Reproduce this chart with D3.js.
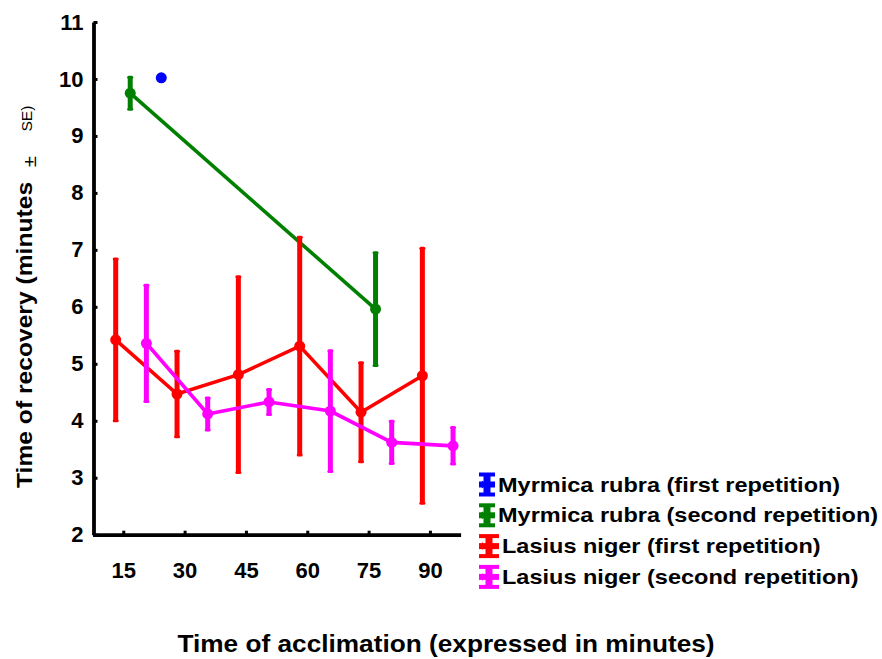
<!DOCTYPE html>
<html lang="en">
<head>
<meta charset="utf-8">
<title>Time of recovery</title>
<script src="https://d3js.org/d3.v7.min.js"></script>
<style>
body { margin: 0; background: #fff; }
text { font-family: "Liberation Sans", Arial, sans-serif; }
</style>
</head>
<body>
<script type="text/javascript">
var w = 882;
var h = 659;

// acclimation time categories (minutes)
var categories = [15, 30, 45, 60, 75, 90];
var yTicks = [2, 3, 4, 5, 6, 7, 8, 9, 10, 11];

// Myrmica rubra (first repetition)
var mrFirstX = [15];
var mrFirstMean = [10.02];
var mrFirstSE = [0];

// Myrmica rubra (second repetition)
var mrSecondX = [15, 75];
var mrSecondMean = [9.75, 5.96];
var mrSecondSE = [0.28, 0.99];

// Lasius niger (first repetition)
var lnFirstX = [15, 30, 45, 60, 75, 90];
var lnFirstMean = [5.42, 4.47, 4.81, 5.31, 4.15, 4.79];
var lnFirstSE = [1.42, 0.75, 1.72, 1.91, 0.87, 2.24];

// Lasius niger (second repetition)
var lnSecondX = [15, 30, 45, 60, 75, 90];
var lnSecondMean = [5.36, 4.12, 4.33, 4.17, 3.62, 3.56];
var lnSecondSE = [1.02, 0.28, 0.22, 1.06, 0.37, 0.32];

var seriesNames = [
  "Myrmica rubra (first repetition)",
  "Myrmica rubra (second repetition)",
  "Lasius niger (first repetition)",
  "Lasius niger (second repetition)"
];

// build series (offset = horizontal dodge in minutes, as in the original plot)
var series = [
  {name: seriesNames[0], xs: mrFirstX, mean: mrFirstMean, se: mrFirstSE, color: "#0000ff", offset: 9.3, iconW: 16},
  {name: seriesNames[1], xs: mrSecondX, mean: mrSecondMean, se: mrSecondSE, color: "#008000", offset: 1.7, iconW: 16},
  {name: seriesNames[2], xs: lnFirstX, mean: lnFirstMean, se: lnFirstSE, color: "#ff0000", offset: -1.85, iconW: 20},
  {name: seriesNames[3], xs: lnSecondX, mean: lnSecondMean, se: lnSecondSE, color: "#ff00ff", offset: 5.65, iconW: 20}
];
series.forEach(function(s){
  s.points = s.xs.map(function(x, i){
    return {x: x + s.offset, mean: s.mean[i], se: s.se[i]};
  });
});

var xScale = d3.scaleLinear()
               .domain([7.5, 97.5])
               .range([92.6, 460.6]);
var yScale = d3.scaleLinear()
               .domain([2, 11])
               .range([534.7, 22]);

var svg = d3.select("body")
            .append("svg")
            .attr("width", w)
            .attr("height", h);

// axes
var yAxis = d3.axisLeft(yScale)
              .tickValues(yTicks)
              .tickFormat(d3.format("d"))
              .tickSizeInner(-4)
              .tickSizeOuter(0)
              .tickPadding(10);
var xAxis = d3.axisBottom(xScale)
              .tickValues(categories)
              .tickFormat(d3.format("d"))
              .tickSizeInner(-4)
              .tickSizeOuter(0)
              .tickPadding(27.5);

var gy = svg.append("g")
            .attr("transform", "translate(93.5,0)")
            .call(yAxis);
var gx = svg.append("g")
            .attr("transform", "translate(0,534.7)")
            .call(xAxis);

[gy, gx].forEach(function(g){
  g.select(".domain").attr("stroke", "#000").attr("stroke-width", 3.8);
  g.selectAll(".tick line").attr("stroke", "#000").attr("stroke-width", 3);
  g.selectAll(".tick text")
   .attr("fill", "#000")
   .attr("font-family", "Liberation Sans, Arial, sans-serif")
   .attr("font-weight", "bold")
   .attr("font-size", "22px");
});

// series: lines, error bars, markers
var line = d3.line()
             .x(function(d){ return xScale(d.x); })
             .y(function(d){ return yScale(d.mean); });

series.forEach(function(s){
  var g = svg.append("g");

  g.append("path")
   .datum(s.points)
   .attr("d", line)
   .attr("fill", "none")
   .attr("stroke", s.color)
   .attr("stroke-width", 3.6);

  var bars = g.selectAll(".bar")
              .data(s.points.filter(function(d){ return d.se > 0; }))
              .enter()
              .append("g");

  bars.append("line")
      .attr("x1", function(d){ return xScale(d.x); })
      .attr("x2", function(d){ return xScale(d.x); })
      .attr("y1", function(d){ return yScale(d.mean + d.se); })
      .attr("y2", function(d){ return yScale(d.mean - d.se); })
      .attr("stroke", s.color)
      .attr("stroke-width", 5);

  bars.selectAll(".cap")
      .data(function(d){ return [d.mean + d.se, d.mean - d.se].map(function(v){ return {x: d.x, v: v}; }); })
      .enter()
      .append("line")
      .attr("x1", function(d){ return xScale(d.x) - 1.5; })
      .attr("x2", function(d){ return xScale(d.x) + 1.5; })
      .attr("y1", function(d){ return yScale(d.v); })
      .attr("y2", function(d){ return yScale(d.v); })
      .attr("stroke", s.color)
      .attr("stroke-width", 3)
      .attr("stroke-linecap", "round");

  g.selectAll("circle")
   .data(s.points)
   .enter()
   .append("circle")
   .attr("cx", function(d){ return xScale(d.x); })
   .attr("cy", function(d){ return yScale(d.mean); })
   .attr("r", 5.5)
   .attr("fill", s.color);
});

// axis titles
svg.append("text")
   .attr("transform", "translate(446,652) scale(1.14,1)")
   .attr("text-anchor", "middle")
   .attr("font-weight", "bold")
   .attr("font-size", "23px")
   .attr("fill", "#000")
   .text("Time of acclimation (expressed in minutes)");

var yTitle = svg.append("text")
                .attr("transform", "translate(32,488) rotate(-90) scale(1.12,1)")
                .attr("text-anchor", "start")
                .attr("fill", "#000");
yTitle.append("tspan")
      .attr("font-weight", "bold")
      .attr("font-size", "22px")
      .text("Time of recovery (minutes");
yTitle.append("tspan")
      .attr("dx", 13)
      .attr("dy", 4)
      .attr("font-size", "18px")
      .text("\u00b1");
yTitle.append("tspan")
      .attr("dx", 22)
      .attr("dy", -4)
      .attr("font-size", "14px")
      .text("SE)");

// legend
var legend = svg.selectAll(".legend")
                .data(series)
                .enter()
                .append("g")
                .attr("transform", function(d, i){ return "translate(479," + (491.5 + i * 30.8) + ")"; });

legend.each(function(s){
  var g = d3.select(this);
  var cw = s.iconW;
  g.append("rect").attr("x", 0).attr("y", -19).attr("width", cw).attr("height", 4).attr("fill", s.color);
  g.append("rect").attr("x", 0).attr("y", 1).attr("width", cw).attr("height", 4).attr("fill", s.color);
  g.append("rect").attr("x", cw / 2 - 3.5).attr("y", -16).attr("width", 7).attr("height", 18).attr("fill", s.color);
  g.append("rect").attr("x", 0).attr("y", -10).attr("width", cw).attr("height", 6).attr("fill", s.color);
  g.append("path")
   .attr("d", "M0,-7 L4,-11 L4,-3 Z")
   .attr("fill", s.color);
  g.append("text")
   .attr("transform", "translate(" + (cw + 3) + ",0) scale(1.12,1)")
   .attr("font-weight", "bold")
   .attr("font-size", "21px")
   .attr("fill", "#000")
   .text(s.name);
});
</script>
</body>
</html>
